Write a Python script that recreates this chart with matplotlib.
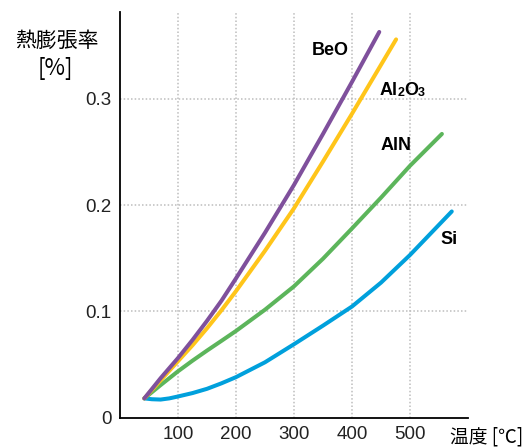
import matplotlib
matplotlib.use("Agg")
import matplotlib.pyplot as plt

# values (temperature in C, expansion in %)
beo_t = [42, 70, 100, 125, 150, 175, 200, 250, 300, 350, 400, 447]
beo_v = [0.018, 0.037, 0.056, 0.073, 0.091, 0.110, 0.131, 0.174, 0.219, 0.267, 0.316, 0.363]

al2o3_t = [42, 70, 100, 125, 150, 175, 200, 250, 300, 350, 400, 476]
al2o3_v = [0.018, 0.035, 0.053, 0.068, 0.084, 0.101, 0.119, 0.157, 0.197, 0.241, 0.286, 0.356]

aln_t = [42, 70, 100, 125, 150, 175, 200, 250, 300, 350, 400, 450, 500, 555]
aln_v = [0.018, 0.0305, 0.0435, 0.0535, 0.063, 0.0722, 0.0815, 0.1015, 0.1235, 0.1495, 0.178, 0.207, 0.237, 0.267]

si_t = [42, 55, 70, 85, 100, 125, 150, 175, 200, 250, 300, 350, 400, 450, 500, 572]
si_v = [0.018, 0.0172, 0.0169, 0.0180, 0.0198, 0.0230, 0.0270, 0.0322, 0.0380, 0.0520, 0.0690,
        0.0865, 0.1045, 0.1270, 0.1530, 0.1940]

x_ticks = [100, 200, 300, 400, 500]
y_ticks = [0, 0.1, 0.2, 0.3]
y_tick_labels = ["0", "0.1", "0.2", "0.3"]

cjk = ["Noto Sans CJK JP", "DejaVu Sans"]
num_font = "Liberation Sans"

fig = plt.figure(figsize=(5.3, 4.47), dpi=100)
ax = fig.add_axes([120 / 530, 29.5 / 447, 348 / 530, 405.5 / 447])

# dotted grid
grid_kw = dict(color="#bdbdbd", lw=1.1, dashes=(1, 1.4), zorder=1)
for xt in x_ticks:
    ax.axvline(xt, **grid_kw)
for yt in y_ticks[1:]:
    ax.axhline(yt, **grid_kw)

line_kw = dict(lw=2.9, solid_capstyle="round", solid_joinstyle="round", zorder=3)
ax.plot(si_t, si_v, color="#00a0dc", **line_kw)
ax.plot(aln_t, aln_v, color="#5cb55b", **line_kw)
ax.plot(al2o3_t, al2o3_v, color="#ffc51a", **line_kw)
ax.plot(beo_t, beo_v, color="#7f509c", **line_kw)

ax.set_xlim(0, 600)
ax.set_ylim(0, 0.3818)
ax.set_xticks(x_ticks)
ax.set_yticks(y_ticks)
ax.set_yticklabels(y_tick_labels)
ax.tick_params(length=0, labelsize=13.5, labelcolor="#222222")
ax.tick_params(axis="x", pad=6)
ax.tick_params(axis="y", pad=6)
for lab in ax.get_xticklabels() + ax.get_yticklabels():
    lab.set_fontfamily(num_font)

for s in ["top", "right"]:
    ax.spines[s].set_visible(False)
for s in ["left", "bottom"]:
    ax.spines[s].set_linewidth(1.3)
    ax.spines[s].set_color("black")

# curve labels
lab_kw = dict(fontsize=13, fontweight="bold", family=num_font, va="center")
ax.text(362, 0.346, "BeO", ha="center", **lab_kw)
al = ax.text(447, 0.308, "Al", ha="left", **lab_kw)
two = ax.annotate("2", xy=(1, 0), xycoords=al, ha="left", va="bottom",
                  fontsize=9, fontweight="bold", family=num_font)
o = ax.annotate("O", xy=(1, 0), xycoords=two, ha="left", va="bottom",
                fontsize=13, fontweight="bold", family=num_font)
ax.annotate("3", xy=(1, 0), xycoords=o, ha="left", va="bottom",
            fontsize=9, fontweight="bold", family=num_font)
ax.text(449, 0.256, "AlN", ha="left", **lab_kw)
ax.text(552, 0.1676, "Si", ha="left", **lab_kw)

# axis titles
fig.text(57 / 530, 1 - 41 / 447, "熱膨張率", ha="center", va="center",
         fontsize=15, family=cjk)
fig.text(55 / 530, 1 - 68 / 447, "[%]", ha="center", va="center",
         fontsize=16, family=cjk)
fig.text(487 / 530, 1 - 437 / 447, "温度 [℃]", ha="center", va="center",
         fontsize=13.5, family=cjk)

fig.savefig("out.png", dpi=100)
